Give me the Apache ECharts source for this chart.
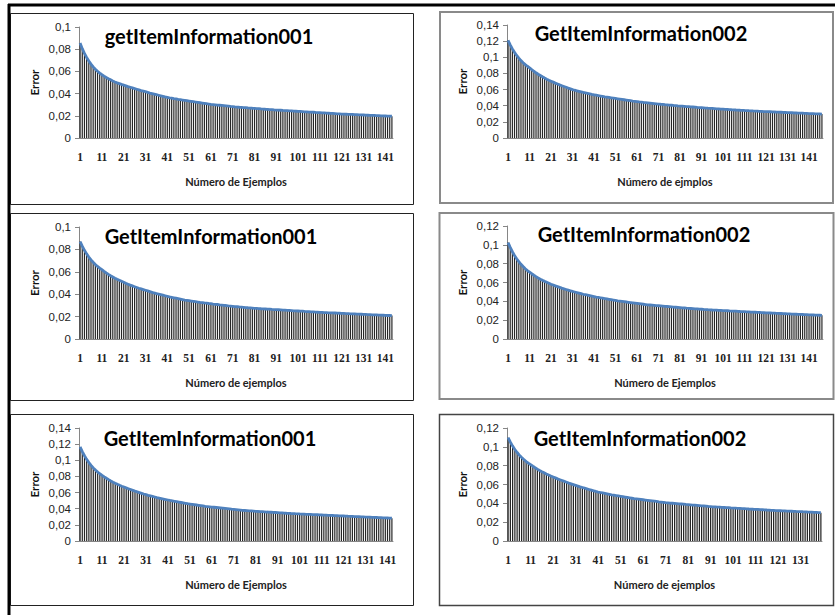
<!DOCTYPE html>
<html>
<head>
<meta charset="utf-8">
<script src="https://cdn.jsdelivr.net/npm/echarts@6/dist/echarts.min.js"></script>
<style>html,body{margin:0;padding:0;background:#fff;}#chart{width:835px;height:615px;}</style>
</head>
<body>
<div id="chart"></div>
<script>
// ---- data ----
const p1Error = [.0855,.0805,.0762,.0726,.0694,.0666,.0641,.0620,.0601,.0585,
.0570,.0557,.0545,.0534,.0524,.0514,.0505,.0497,.0490,.0483,
.0477,.0470,.0463,.0457,.0451,.0445,.0439,.0433,.0427,.0422,
.0417,.0411,.0405,.0400,.0395,.0390,.0385,.0380,.0375,.0370,
.0366,.0362,.0359,.0355,.0352,.0348,.0345,.0342,.0339,.0336,
.0333,.0330,.0327,.0324,.0321,.0318,.0315,.0312,.0309,.0306,
.0303,.0301,.0299,.0297,.0295,.0293,.0291,.0289,.0287,.0284,
.0282,.0280,.0279,.0277,.0276,.0274,.0273,.0271,.0270,.0268,
.0267,.0265,.0264,.0262,.0261,.0259,.0258,.0256,.0255,.0253,
.0252,.0251,.0250,.0248,.0247,.0246,.0245,.0244,.0242,.0241,
.0240,.0239,.0238,.0236,.0235,.0234,.0233,.0232,.0230,.0229,
.0228,.0227,.0226,.0224,.0223,.0222,.0221,.0220,.0218,.0217,
.0216,.0215,.0214,.0213,.0212,.0212,.0211,.0210,.0209,.0208,
.0207,.0206,.0205,.0204,.0203,.0203,.0202,.0201,.0200,.0199,
.0198,.0197,.0197,.0196];

const p2Error = [.1210,.1154,.1104,.1061,.1023,.0989,.0959,.0933,.0909,.0889,
.0870,.0848,.0827,.0808,.0790,.0774,.0758,.0743,.0729,.0716,
.0704,.0692,.0680,.0669,.0658,.0648,.0638,.0628,.0618,.0609,
.0600,.0592,.0585,.0578,.0571,.0564,.0558,.0552,.0546,.0540,
.0535,.0530,.0525,.0520,.0515,.0510,.0506,.0502,.0498,.0494,
.0490,.0486,.0482,.0478,.0474,.0470,.0466,.0462,.0458,.0455,
.0452,.0448,.0445,.0442,.0439,.0436,.0433,.0430,.0427,.0424,
.0421,.0418,.0416,.0413,.0411,.0408,.0406,.0403,.0401,.0398,
.0396,.0394,.0392,.0390,.0388,.0386,.0384,.0382,.0379,.0377,
.0375,.0373,.0371,.0369,.0368,.0366,.0364,.0362,.0361,.0359,
.0357,.0355,.0354,.0352,.0350,.0349,.0347,.0346,.0344,.0343,
.0341,.0340,.0338,.0337,.0335,.0334,.0333,.0331,.0330,.0328,
.0327,.0326,.0325,.0323,.0322,.0321,.0320,.0319,.0317,.0316,
.0315,.0314,.0313,.0311,.0310,.0309,.0308,.0307,.0305,.0304,
.0303,.0302,.0301,.0300,.0299,.0298,.0297];

const p3Error = [.0870,.0829,.0792,.0760,.0732,.0707,.0685,.0666,.0648,.0633,
.0619,.0604,.0590,.0577,.0565,.0554,.0543,.0533,.0524,.0515,
.0506,.0497,.0489,.0481,.0474,.0467,.0460,.0453,.0447,.0441,
.0435,.0429,.0423,.0417,.0411,.0406,.0401,.0396,.0391,.0386,
.0381,.0376,.0372,.0368,.0364,.0360,.0356,.0352,.0348,.0345,
.0342,.0339,.0336,.0333,.0330,.0327,.0325,.0322,.0320,.0317,
.0315,.0312,.0310,.0308,.0305,.0303,.0301,.0299,.0296,.0294,
.0292,.0290,.0288,.0286,.0285,.0283,.0281,.0279,.0278,.0276,
.0274,.0273,.0272,.0270,.0269,.0268,.0267,.0266,.0264,.0263,
.0262,.0261,.0260,.0258,.0257,.0256,.0255,.0254,.0252,.0251,
.0250,.0249,.0248,.0246,.0245,.0244,.0243,.0242,.0240,.0239,
.0238,.0237,.0236,.0235,.0234,.0234,.0233,.0232,.0231,.0230,
.0229,.0228,.0227,.0226,.0225,.0225,.0224,.0223,.0222,.0221,
.0220,.0219,.0218,.0217,.0216,.0216,.0215,.0214,.0213,.0212,
.0211,.0210,.0210,.0209];

const p4Error = [.1024,.0973,.0927,.0887,.0852,.0821,.0793,.0769,.0746,.0727,
.0710,.0693,.0677,.0662,.0648,.0635,.0623,.0612,.0602,.0592,
.0582,.0573,.0564,.0556,.0548,.0540,.0533,.0526,.0519,.0512,
.0505,.0499,.0493,.0487,.0481,.0475,.0470,.0465,.0460,.0455,
.0450,.0445,.0441,.0437,.0433,.0429,.0425,.0421,.0417,.0413,
.0409,.0405,.0402,.0399,.0396,.0393,.0390,.0387,.0384,.0381,
.0378,.0375,.0372,.0369,.0366,.0363,.0361,.0359,.0357,.0355,
.0353,.0351,.0349,.0347,.0345,.0343,.0341,.0339,.0337,.0335,
.0333,.0331,.0329,.0327,.0326,.0324,.0322,.0320,.0319,.0317,
.0316,.0314,.0313,.0311,.0310,.0308,.0307,.0306,.0304,.0303,
.0302,.0301,.0300,.0298,.0297,.0296,.0295,.0294,.0292,.0291,
.0290,.0289,.0288,.0286,.0285,.0284,.0283,.0282,.0280,.0279,
.0278,.0277,.0276,.0275,.0274,.0273,.0272,.0271,.0269,.0268,
.0267,.0266,.0265,.0264,.0263,.0262,.0261,.0260,.0259,.0258,
.0257,.0256,.0255,.0254,.0253,.0252,.0251];

const p5Error = [.1165,.1108,.1056,.1011,.0972,.0937,.0906,.0879,.0854,.0833,
.0814,.0795,.0777,.0760,.0744,.0729,.0715,.0702,.0690,.0679,
.0669,.0658,.0648,.0638,.0628,.0618,.0609,.0600,.0591,.0582,
.0574,.0566,.0559,.0552,.0545,.0538,.0532,.0526,.0520,.0514,
.0508,.0502,.0497,.0492,.0487,.0482,.0477,.0472,.0467,.0462,
.0458,.0454,.0450,.0446,.0442,.0438,.0434,.0430,.0427,.0424,
.0421,.0418,.0415,.0412,.0409,.0406,.0403,.0400,.0397,.0394,
.0392,.0389,.0386,.0383,.0380,.0378,.0376,.0374,.0372,.0370,
.0368,.0366,.0364,.0363,.0361,.0359,.0358,.0356,.0354,.0353,
.0351,.0349,.0348,.0346,.0344,.0343,.0341,.0340,.0338,.0337,
.0335,.0334,.0333,.0331,.0330,.0329,.0327,.0326,.0325,.0323,
.0322,.0321,.0320,.0318,.0317,.0316,.0315,.0314,.0312,.0311,
.0310,.0309,.0307,.0306,.0305,.0303,.0302,.0301,.0299,.0298,
.0297,.0296,.0295,.0293,.0292,.0291,.0290,.0289,.0287,.0286,
.0285,.0284,.0283];

const p6Error = [.1097,.1050,.1008,.0972,.0940,.0912,.0887,.0865,.0844,.0827,
.0811,.0794,.0778,.0763,.0749,.0736,.0724,.0712,.0701,.0690,
.0680,.0670,.0660,.0651,.0642,.0633,.0624,.0615,.0607,.0599,
.0591,.0583,.0575,.0568,.0561,.0554,.0547,.0540,.0533,.0526,
.0520,.0515,.0510,.0505,.0500,.0495,.0490,.0486,.0482,.0478,
.0474,.0470,.0466,.0462,.0458,.0454,.0450,.0447,.0444,.0441,
.0438,.0435,.0432,.0429,.0426,.0423,.0420,.0416,.0413,.0410,
.0407,.0405,.0403,.0401,.0399,.0397,.0395,.0393,.0391,.0388,
.0386,.0384,.0382,.0380,.0378,.0376,.0374,.0372,.0370,.0367,
.0365,.0363,.0362,.0360,.0359,.0357,.0356,.0354,.0353,.0351,
.0350,.0349,.0347,.0346,.0344,.0343,.0342,.0340,.0339,.0337,
.0336,.0335,.0333,.0332,.0330,.0329,.0328,.0326,.0325,.0323,
.0322,.0321,.0320,.0319,.0318,.0317,.0316,.0315,.0314,.0313,
.0312,.0311,.0310,.0308,.0307,.0306,.0305,.0304,.0302,.0301];

const panelTitles = ['getItemInformation001','GetItemInformation002','GetItemInformation001',
                     'GetItemInformation002','GetItemInformation001','GetItemInformation002'];
const xAxisNames = ['Número de Ejemplos','Número de ejmplos','Número de ejemplos',
                    'Número de Ejemplos','Número de Ejemplos','Número de ejemplos'];
const yAxisName = 'Error';
const yMax = [0.1, 0.14, 0.1, 0.12, 0.14, 0.12];
const yStep = 0.02;
const seriesData = [p1Error, p2Error, p3Error, p4Error, p5Error, p6Error];

// ---- layout (positions / styles) ----
const grids = [
  {left: 79,  top: 27,  width: 314, height: 111},
  {left: 507, top: 25,  width: 316, height: 113},
  {left: 79,  top: 227, width: 314, height: 112},
  {left: 507, top: 226, width: 316, height: 113},
  {left: 79,  top: 428, width: 314, height: 113},
  {left: 507, top: 428, width: 315, height: 113}
];
const titlePos = [[209,36],[641,33],[211,236],[644,234],[210,438],[640,438]];
const boxes = [
  {x:10.5, y:13.5, w:403, h:191, c:'#222', lw:1},
  {x:440,  y:12,   w:393, h:191, c:'#8a8a8a', lw:2},
  {x:10.5, y:213.5,w:403, h:187, c:'#222', lw:1},
  {x:439.5,y:213,  w:394, h:186, c:'#8a8a8a', lw:2},
  {x:10.5, y:414.5,w:403, h:191, c:'#222', lw:1},
  {x:439.5,y:414.5,w:394, h:191, c:'#444', lw:1.5}
];

const fmtY = v => v === 0 ? '0' : String(Math.round(v * 100) / 100).replace('.', ',');

const option = {
  animation: false,
  backgroundColor: '#fff',
  grid: grids.map(g => Object.assign({containLabel: false}, g)),
  xAxis: seriesData.map((d, i) => ({
    type: 'category',
    gridIndex: i,
    data: d.map((_, k) => String(k + 1)),
    boundaryGap: true,
    name: xAxisNames[i],
    nameLocation: 'middle',
    nameGap: 38,
    nameTextStyle: {fontFamily: 'Lato', fontWeight: 'bold', fontSize: 11, color: '#222'},
    axisLine: {lineStyle: {color: '#868686', width: 1}},
    axisTick: {show: false},
    axisLabel: {interval: 9, margin: 13, fontFamily: 'Liberation Serif', fontWeight: 'bold', fontSize: 11.5, color: '#222'},
    splitLine: {show: false}
  })),
  yAxis: seriesData.map((d, i) => ({
    type: 'value',
    gridIndex: i,
    min: 0,
    max: yMax[i],
    interval: yStep,
    name: yAxisName,
    nameLocation: 'middle',
    nameGap: 39,
    nameTextStyle: {fontFamily: 'Lato', fontWeight: 'bold', fontSize: 11.5, color: '#111'},
    axisLine: {show: true, lineStyle: {color: '#868686', width: 1}},
    axisTick: {show: true, length: 4, lineStyle: {color: '#868686'}},
    axisLabel: {formatter: fmtY, margin: 8, fontFamily: 'Liberation Sans', fontSize: 11.5, color: '#222'},
    splitLine: {show: false}
  })),
  series: seriesData.flatMap((d, i) => [
    {
      type: 'bar', xAxisIndex: i, yAxisIndex: i, data: d,
      barCategoryGap: '45%', silent: true,
      itemStyle: {color: '#262626'}
    },
    {
      type: 'line', xAxisIndex: i, yAxisIndex: i, data: d,
      showSymbol: false, silent: true,
      lineStyle: {color: '#4f81bd', width: 2.8}
    }
  ]),
  graphic: [
    ...boxes.map(b => ({type: 'rect', silent: true, z: -1,
      shape: {x: b.x, y: b.y, width: b.w, height: b.h},
      style: {fill: 'none', stroke: b.c, lineWidth: b.lw}})),
    {type: 'line', silent: true, shape: {x1: 8, y1: 5, x2: 835, y2: 5}, style: {stroke: '#000', lineWidth: 3}},
    {type: 'line', silent: true, shape: {x1: 9, y1: 4, x2: 9, y2: 615}, style: {stroke: '#000', lineWidth: 3}},
    ...panelTitles.map((t, i) => ({type: 'text', silent: true,
      x: titlePos[i][0], y: titlePos[i][1],
      style: {text: t, fontFamily: 'Lato', fontWeight: 'bold', fontSize: 20, fill: '#000',
              textAlign: 'center', textVerticalAlign: 'middle'}}))
  ]
};

const chart = echarts.init(document.getElementById('chart'), null, {renderer: 'svg'});
chart.setOption(option);
</script>
</body>
</html>
